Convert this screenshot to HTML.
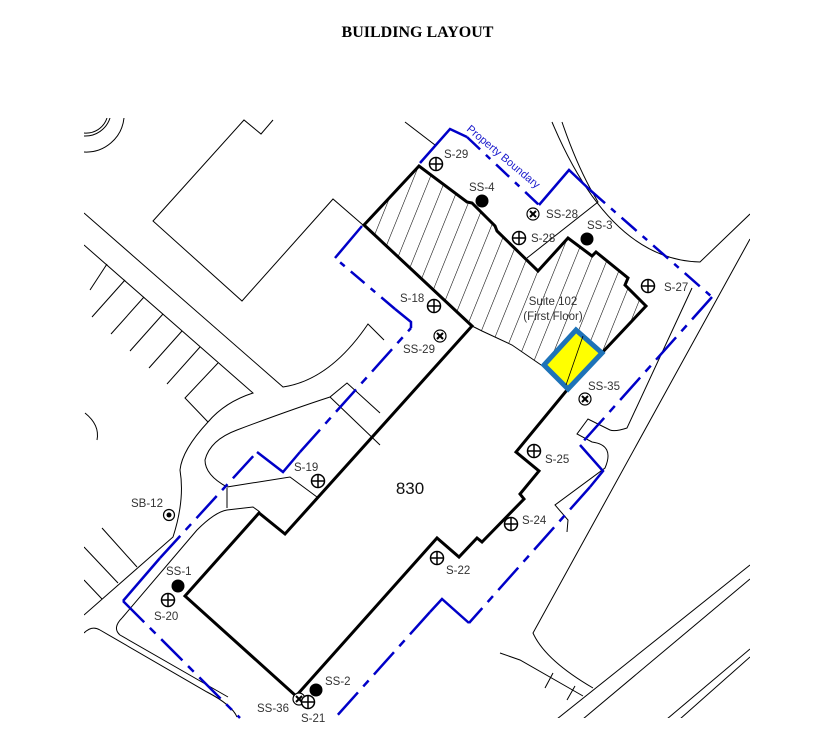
<!DOCTYPE html>
<html><head><meta charset="utf-8"><style>
html,body{margin:0;padding:0;background:#fff;}
body{width:825px;height:743px;overflow:hidden;position:relative;}
h1{position:absolute;top:24px;left:0;width:835px;text-align:center;margin:0;font:bold 16px "Liberation Serif",serif;color:#000;}
svg{position:absolute;left:0;top:0;}
text{font-family:"Liberation Sans",sans-serif;font-size:11.5px;fill:#333;}
</style></head><body>
<h1>BUILDING LAYOUT</h1>
<svg width="825" height="743" viewBox="0 0 825 743">
<defs>
<pattern id="hatch" patternUnits="userSpaceOnUse" width="15" height="15" patternTransform="rotate(22)">
<line x1="0" y1="0" x2="0" y2="15" stroke="#000" stroke-width="1.1"/>
</pattern>
<clipPath id="clip"><rect x="84" y="118" width="666" height="600"/></clipPath>
<g id="plus"><circle r="6.5" fill="#fff" stroke="#000" stroke-width="1.5"/><line x1="-6.5" y1="0" x2="6.5" y2="0" stroke="#000" stroke-width="1.5"/><line x1="0" y1="-6.5" x2="0" y2="6.5" stroke="#000" stroke-width="1.5"/></g>
<g id="xc"><circle r="6" fill="#fff" stroke="#000" stroke-width="1.2"/><line x1="-3" y1="-3" x2="3" y2="3" stroke="#000" stroke-width="2"/><line x1="-3" y1="3" x2="3" y2="-3" stroke="#000" stroke-width="2"/></g>
</defs>
<g clip-path="url(#clip)" fill="none" stroke="#000" stroke-width="1">
<path d="M84 152 A38 38 0 0 0 124 118"/>
<path d="M84 133 A22 22 0 0 0 107 118"/>
<path d="M84 136 A26 26 0 0 0 110 118"/>
<polyline points="273,120 261,134 244,120 153,221 242,301 333,199 363,225"/>
<polyline points="405,122 435,145"/>
<path d="M84 213 L283 387 Q330 380 368 324 L384 340"/>
<path d="M84 245 L253 393 Q225 402 208 422 Q182 450 180 470 Q185 500 173 537 L84 615"/>
<line x1="107" y1="264" x2="90" y2="290"/>
<line x1="125" y1="280" x2="92" y2="317"/>
<line x1="144" y1="297" x2="111" y2="334"/>
<line x1="163" y1="314" x2="130" y2="351"/>
<line x1="182" y1="331" x2="149" y2="368"/>
<line x1="200" y1="347" x2="167" y2="384"/>
<polyline points="218,363 185,398 208,422"/>
<path d="M85 413 Q100 425 97 440"/>
<line x1="102" y1="528" x2="137" y2="567"/>
<line x1="84" y1="547" x2="118" y2="583"/>
<line x1="84" y1="580" x2="102" y2="599"/>
<path d="M122 618 L197 530 Q215 512 227 510 L253 507 L260 512"/>
<path d="M227 487 Q205 475 205 460 Q210 440 237 430 Q290 410 330 397 L347 383 L380 413"/>
<polyline points="227,487 290,477 317,497"/>
<line x1="227" y1="488" x2="227" y2="508"/>
<path d="M122 618 Q112 628 120 635 L228 697"/>
<path d="M84 633 Q92 625 100 630 L207 692 Q232 705 237 717"/>
<polyline points="330,397 380,445"/>
<path d="M552 122 Q610 260 700 262 L750 214"/>
<path d="M562 122 Q575 160 590 188 L598 202 L527 258"/>
<path d="M750 239 L533 633 Q545 660 593 688"/>
<path d="M692 288 L627 428 Q615 432 610 430 L588 419 L577 434 L592 442 Q615 445 605 468 L555 505 L568 520 L567 532"/>
<path d="M750 565 L557 719"/>
<path d="M750 579 L583 719"/>
<path d="M750 649 L667 719"/>
<path d="M750 657 L680 719"/>
<polyline points="500,653 520,660 583,696"/>
<line x1="553" y1="673" x2="545" y2="688"/>
<line x1="575" y1="686" x2="567" y2="700"/>
</g>
<polygon points="364,225 419,166 467,202 472,203 495,226 497,231 538,271 568,238 592,256 596,252 628,278 625,285 646,306 567,390 544,367 512,345 482,331 472,326" fill="url(#hatch)" stroke="none"/>
<polyline points="472,326 482,331 512,345 544,367 567,390" fill="none" stroke="#000" stroke-width="1"/>
<polygon points="364,225 419,166 467,202 472,203 495,226 497,231 538,271 568,238 592,256 596,252 628,278 625,285 646,306 567,390 516,452 539,471 520,494 524,499 482,542 477,538 459,557 437,538 296,696 185,596 259,513 285,534 472,326" fill="none" stroke="#000" stroke-width="3" stroke-linejoin="miter"/>
<polygon points="576,330 602,353 568,389 544,365" fill="#ffff00" stroke="#1e73b8" stroke-width="5"/>
<line x1="566" y1="385" x2="583" y2="336" stroke="#000" stroke-width="0.8"/>
<g fill="none" stroke="#0000c8" stroke-width="2.5">
<polyline points="420,163 450,129 467,137"/>
<polyline points="539,205 569,170 590,190" />
<line x1="467" y1="137" x2="539" y2="205" stroke-dasharray="18,8,6,8"/>
<line x1="590" y1="190" x2="712" y2="297" stroke-dasharray="20,8,6,8"/>
<line x1="712" y1="297" x2="580" y2="445" stroke-dasharray="30,8,8,8"/>
<polyline points="580,445 603,471 590,487"/>
<line x1="590" y1="487" x2="469" y2="623" stroke-dasharray="30,8,8,8"/>
<polyline points="469,623 442,599 430,612"/>
<line x1="430" y1="612" x2="335" y2="718" stroke-dasharray="30,8,8,8"/>
<line x1="123" y1="601" x2="240" y2="718" stroke-dasharray="30,8,8,8"/>
<polyline points="160,558 123,601"/>
<line x1="160" y1="558" x2="257" y2="452" stroke-dasharray="30,8,8,8"/>
<polyline points="257,452 283,472 300,452"/>
<line x1="300" y1="452" x2="411" y2="328" stroke-dasharray="30,8,8,8"/>
<polyline points="411,328 411,322 395,309"/>
<line x1="395" y1="309" x2="335" y2="258" stroke-dasharray="18,8,6,8"/>
<polyline points="335,258 362,226"/>
</g>
<text x="466" y="130" transform="rotate(40 466 130)" style="fill:#1a1acc;font-size:11px">Property Boundary</text>
<use href="#plus" x="436" y="164"/><text x="444" y="158">S-29</text>
<circle cx="482" cy="201" r="6.5" fill="#000"/><text x="469" y="191">SS-4</text>
<use href="#xc" x="533" y="214"/><text x="546" y="218">SS-28</text>
<use href="#plus" x="519" y="238"/><text x="531" y="242">S-28</text>
<circle cx="587" cy="239" r="6.5" fill="#000"/><text x="587" y="229">SS-3</text>
<use href="#plus" x="648" y="286"/><text x="664" y="291">S-27</text>
<text x="553" y="305" text-anchor="middle">Suite 102</text>
<text x="553" y="320" text-anchor="middle">(First Floor)</text>
<use href="#plus" x="434" y="306"/><text x="400" y="302">S-18</text>
<use href="#xc" x="440" y="336"/><text x="403" y="353">SS-29</text>
<use href="#xc" x="585" y="399"/><text x="588" y="390">SS-35</text>
<use href="#plus" x="534" y="451"/><text x="545" y="463">S-25</text>
<text x="410" y="494" text-anchor="middle" style="font-size:17px;fill:#111">830</text>
<use href="#plus" x="318" y="481"/><text x="294" y="471">S-19</text>
<circle cx="169" cy="515" r="5.5" fill="#fff" stroke="#000" stroke-width="1.2"/><circle cx="169" cy="515" r="2.5" fill="#000"/><text x="131" y="507">SB-12</text>
<use href="#plus" x="511" y="524"/><text x="522" y="524">S-24</text>
<use href="#plus" x="437" y="558"/><text x="446" y="574">S-22</text>
<circle cx="178" cy="586" r="6.5" fill="#000"/><text x="166" y="575">SS-1</text>
<use href="#plus" x="168" y="600"/><text x="154" y="620">S-20</text>
<circle cx="316" cy="690" r="6.5" fill="#000"/><text x="325" y="685">SS-2</text>
<use href="#xc" x="299" y="699"/>
<use href="#plus" x="308" y="702"/><text x="257" y="712">SS-36</text><text x="301" y="722">S-21</text>
</svg>
</body></html>
